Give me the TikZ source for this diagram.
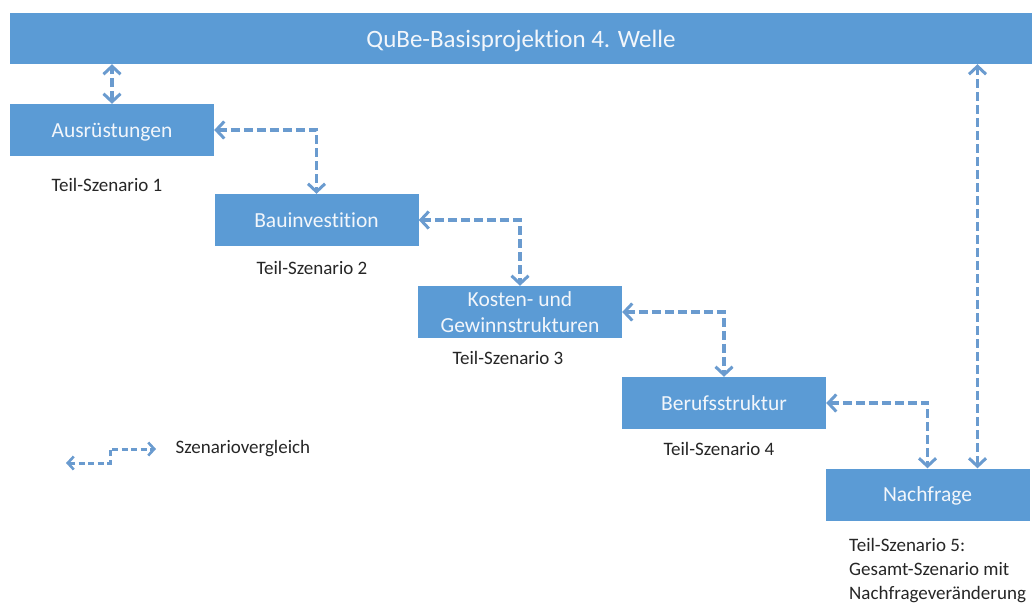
\documentclass[tikz,border=0pt]{standalone}
\usepackage{fontspec}
\setmainfont{Carlito}[Ligatures=NoCommon]
\usetikzlibrary{arrows.meta}

\definecolor{boxblue}{HTML}{5B9BD5}
\definecolor{arrblue}{HTML}{6A9BCF}
\definecolor{boxtext}{HTML}{F2F6FB}

\tikzset{
  stage/.style={fill=boxblue, minimum width=204pt, minimum height=52pt,
    inner sep=0pt, text=boxtext, font=\fontsize{21.5}{26}\selectfont, align=center,
    text depth=0pt},
  teil/.style={text=black!85, font=\fontsize{19}{24}\selectfont},
  cmp/.style={arrblue, line width=3.6pt, dash pattern=on 9pt off 4pt,
    {Straight Barb[length=8pt,width=17pt,line width=3pt]}-{Straight Barb[length=8pt,width=17pt,line width=3pt]}}
}

\begin{document}
\begin{tikzpicture}[x=1pt,y=-1pt]
  \useasboundingbox (0,0) rectangle (1032,605);

  \node[stage, minimum width=1022pt, minimum height=51pt,
    font=\fontsize{25}{27}\selectfont] (top) at (521,38.5) {QuBe-Basisprojektion 4. Welle};

  \node[stage] (ausr) at (112,130) {Ausrüstungen};
  \node[stage] (bau) at (316.5,220) {Bauinvestition};
  \node[stage] (kost) at (520,312) {Kosten- und\\Gewinnstrukturen};
  \node[stage] (beruf) at (724,403) {Berufsstruktur};
  \node[stage] (nachf) at (927.5,494.5) {Nachfrage};

  \node[teil] (t1) at (107,185) {Teil-Szenario 1};
  \node[teil] (t2) at (312,268) {Teil-Szenario 2};
  \node[teil] (t3) at (508,358) {Teil-Szenario 3};
  \node[teil] (t4) at (719,449) {Teil-Szenario 4};
  \node[teil, anchor=north west, align=left, inner sep=0pt] (t5) at (849,538)
    {Teil-Szenario 5:\\Gesamt-Szenario mit\\Nachfrageveränderung};

  % Szenariovergleiche
  \draw[cmp] (ausr.north) -- (ausr.north |- top.south);
  \draw[cmp] (ausr.east) -| (bau.north);
  \draw[cmp] (bau.east) -| (kost.north);
  \draw[cmp] (kost.east) -| (beruf.north);
  \draw[cmp] (beruf.east) -| (nachf.north);
  \draw[cmp] ([xshift=50pt]nachf.north) -- ([xshift=50pt]nachf.north |- top.south);

  % Legende
  \node[teil, anchor=west] (leg) at (172,449) {Szenariovergleich};
  \coordinate (l1) at (66,463);
  \coordinate (l2) at (156,449);
  \draw[arrblue, line width=3pt, dash pattern=on 6pt off 3.5pt,
    {Straight Barb[length=6pt,width=13pt,line width=2.6pt]}-{Straight Barb[length=6pt,width=13pt,line width=2.6pt]}]
    (l1) -- (110,463) -- (110,449) -- (l2);
\end{tikzpicture}
\end{document}
